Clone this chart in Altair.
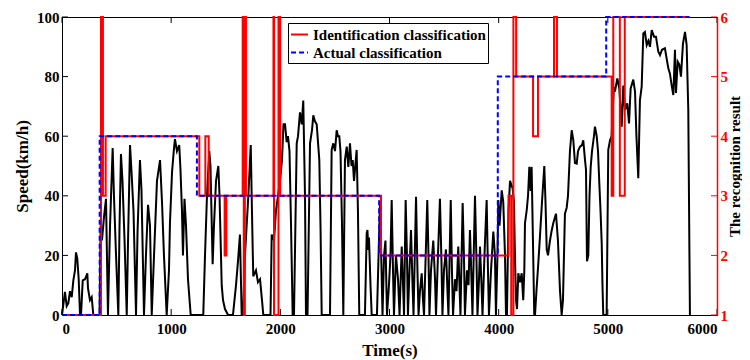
import altair as alt
import pandas as pd

FONT = "Liberation Serif"

# ---------------- speed trace (time in s, speed in km/h) ----------------
t_a = [0, 27, 43, 58, 73, 89, 104, 119, 128, 140, 153, 165, 174, 190, 211, 232, 238, 256, 272, 287, 344]
v_a = [0, 7.8, 3, 4, 8, 6, 11.6, 15, 21, 19, 12, 0, 0, 11.6, 12, 14, 9, 5, 6, 0, 0]

t_b = [354, 366, 385, 403, 421, 440, 464, 476, 495, 516, 527, 540, 554, 573, 593, 605, 623, 637, 655, 678,
       692, 714, 728, 751, 769, 788, 806, 822, 843, 870, 898, 916, 934, 959, 980, 989, 1008, 1026, 1035, 1053,
       1074, 1085, 1099, 1108, 1122, 1136, 1154, 1179, 1294]
v_b = [30, 25, 33, 39, 0, 30, 56, 40, 20, 0, 30, 54, 45, 25, 0, 25, 57, 48, 35, 0,
       28, 52, 42, 0, 20, 37, 30, 0, 20, 45, 52, 38, 20, 0, 15, 31, 48, 56, 59, 55,
       57, 49, 35, 20, 39, 30, 12, 0, 0]

t_c = [1310, 1328, 1349, 1360, 1380, 1392, 1411, 1432, 1443, 1463, 1475, 1493, 1521, 1566, 1594, 1612, 1630,
       1646, 1658, 1676, 1707, 1729, 1740, 1752, 1777, 1795, 1814, 1832, 1844, 1910, 1921, 1942, 1960, 1979,
       1997, 2015, 2029, 2043, 2058, 2070, 2084, 2098, 2113, 2125, 2150, 2162, 2180, 2196, 2210, 2226, 2235,
       2249, 2272, 2290, 2302, 2317, 2333, 2357, 2368, 2379, 2455, 2470, 2485, 2501, 2516, 2528, 2540, 2551,
       2565, 2577, 2592, 2608, 2623, 2638, 2652, 2663, 2675, 2699, 2711, 2723, 2775, 2791, 2798, 2806, 2812,
       2826, 2837, 2876]
v_c = [20, 40, 55, 50, 17, 30, 45, 50, 40, 10, 5, 2, 0, 0, 10, 18, 27,
       0, 0, 20, 40, 57, 35, 13, 15, 11, 12, 5, 0, 0, 27, 25, 35, 40,
       45, 52, 64, 64, 58, 60, 55, 30, 0, 0, 57.6, 60, 68, 64, 72, 40, 0,
       0, 57.6, 62, 67, 65, 64, 52, 30, 0, 0, 55.4, 57.6, 55, 62, 60, 60, 55,
       30, 0, 52, 56.5, 49.7, 57.6, 50, 52, 45, 55.4, 35, 0, 0, 27.4, 28.5, 21.8, 26,
       10, 0, 0]

t_d = [2885, 2913, 2927, 2936, 2950, 2963, 2977, 2995, 3009, 3020, 3032, 3041, 3059, 3078, 3092, 3112, 3124,
       3133, 3148, 3160, 3169, 3183, 3197, 3211, 3220, 3243, 3256, 3266, 3279, 3295, 3307, 3316, 3346, 3357,
       3366, 3380, 3401, 3417, 3426, 3444, 3462, 3476, 3485, 3499, 3517, 3531, 3540, 3561, 3572, 3582, 3600,
       3614, 3630, 3641, 3650, 3670, 3682, 3691, 3710, 3724, 3737, 3751, 3760, 3783, 3797, 3806, 3820, 3829,
       3843, 3852, 3870, 3890, 3902, 3911, 3930, 3951, 3966, 3975, 3989, 3997, 4008]
v_d = [0, 38, 15, 0, 20, 25, 0, 10, 20, 38.6, 15, 0, 20, 12, 0, 23, 10,
       0, 38.6, 20, 0, 15, 28.5, 10, 0, 39.7, 15, 0, 8, 14, 5, 0, 38.6, 20,
       0, 15, 25, 12, 0, 20, 39, 18, 0, 15, 22, 8, 0, 38.6, 15, 0, 12,
       8, 23, 10, 0, 37.6, 20, 0, 15, 10, 28.5, 12, 0, 40, 18, 0, 12, 23,
       10, 0, 20, 38.6, 15, 0, 15, 28, 20, 0, 20, 38.6, 30]

t_e = [4028, 4042, 4058, 4067, 4076, 4090, 4104, 4128, 4140, 4149, 4159, 4168, 4180, 4195, 4211, 4225, 4235,
       4241, 4257, 4269, 4281, 4293, 4302, 4314, 4326, 4333, 4346, 4363, 4378, 4397, 4418, 4429, 4440, 4452,
       4470, 4484, 4500, 4525, 4543, 4562, 4577, 4589, 4607, 4623, 4635, 4653, 4669, 4684, 4699, 4715, 4727,
       4745, 4763, 4775, 4791, 4800, 4809, 4821, 4832, 4843, 4855, 4873, 4882, 4898, 4910, 4922, 4933, 4944,
       4951, 4958, 4989, 5004, 5020, 5035, 5047, 5056, 5065, 5087, 5105, 5127, 5142, 5157, 5178, 5194, 5209,
       5233, 5249, 5262, 5279, 5294, 5310, 5325, 5340, 5356, 5371, 5386, 5402, 5423, 5441, 5462, 5478, 5496,
       5523, 5539, 5554, 5569, 5585, 5600, 5615, 5624, 5640, 5655, 5670, 5688, 5707, 5722, 5737, 5752]
v_e = [41.8, 38, 20, 0, 0, 35, 45, 42.5, 38, 20, 5, 2, 14, 11, 14, 5, 15,
       30.8, 35.2, 40, 49.7, 41.6, 49.7, 25, 0, 0, 8, 17.3, 26.2, 38, 50, 38, 22, 20,
       25, 28, 30.8, 34, 25, 8, 0, 5, 34, 36, 40, 55, 62, 58.6, 51, 50.8, 55,
       56.5, 57, 58.6, 52, 48.7, 18, 20, 40, 49.7, 55, 60, 63.2, 60, 55, 44.2, 35, 24,
       10, 0, 0, 55.4, 58.6, 60, 70, 76.6, 75, 79.4, 76, 63.2, 77, 68.8, 71, 64.3, 76,
       79, 75, 60, 45.9, 72, 76.6, 94.5, 95, 90.6, 92, 90, 95.6, 93.4, 93.4, 88.4, 87.2, 89,
       89.5, 86, 82.8, 81, 77, 73.8, 89, 74.5, 85, 84, 80, 91, 95, 90.6, 68.8, 0]

# ---------------- classification step series ----------------
ident_t = [0, 357, 375, 400, 1258, 1313, 1344, 1490, 1505, 1655, 1665, 1675, 1685, 1937, 1942, 1983, 1998,
           2922, 4090, 4115, 4135, 4160, 4315, 4360, 4507, 4534, 5035, 5050, 5110, 5155, 5750]
ident_v = [1, 6, 3, 4, 3, 4, 3, 2, 3, 6, 1, 6, 3, 6, 1, 6, 3,
           2, 3, 1, 6, 5, 4, 5, 6, 5, 3, 6, 3, 6, 6]

actual_t = [0, 345, 1236, 2905, 3992, 4985, 5745]
actual_v = [1, 4, 3, 2, 5, 6, 6]

SERIES = ["Identification classification", "Actual classification"]

# ticks
x_ticks = [0, 1000, 2000, 3000, 4000, 5000, 6000]
speed_ticks = [0, 20, 40, 60, 80, 100]
class_ticks = [1, 2, 3, 4, 5, 6]

speed_df = pd.DataFrame({"t": t_a + t_b + t_c + t_d + t_e,
                         "speed": v_a + v_b + v_c + v_d + v_e})
cls_df = pd.concat([
    pd.DataFrame({"t": ident_t, "cls": ident_v, "series": SERIES[0]}),
    pd.DataFrame({"t": actual_t, "cls": actual_v, "series": SERIES[1]}),
], ignore_index=True)
xt_df = pd.DataFrame({"t": x_ticks})
st_df = pd.DataFrame({"speed": speed_ticks})
ct_df = pd.DataFrame({"cls": class_ticks})

W, H = 655, 298

x_scale = alt.Scale(domain=[0, 6000], nice=False, zero=False)
yl_scale = alt.Scale(domain=[0, 100], nice=False)
yr_scale = alt.Scale(domain=[1, 6], nice=False, zero=False)

x_axis = alt.Axis(values=x_ticks, format="d", title="Time(s)", grid=False, ticks=False,
                  labelFont=FONT, labelFontSize=15, labelFontWeight="bold", labelColor="black",
                  labelPadding=6, titleFont=FONT, titleFontSize=17, titleFontWeight="bold",
                  titleColor="black", titlePadding=6, domainColor="black", domainWidth=1)
yl_axis = alt.Axis(values=speed_ticks, format="d", title="Speed(km/h)", grid=False, ticks=False,
                   labelFont=FONT, labelFontSize=15, labelFontWeight="bold", labelColor="black",
                   labelPadding=3, titleFont=FONT, titleFontSize=17, titleFontWeight="bold",
                   titleColor="black", titlePadding=5, domainColor="black", domainWidth=1)
yr_axis = alt.Axis(values=class_ticks, format="d", title="The recognition result", orient="right",
                   grid=False, ticks=False, labelFont=FONT, labelFontSize=15, labelFontWeight="bold",
                   labelColor="#ff0000", labelPadding=3, titleFont=FONT, titleFontSize=15,
                   titleFontWeight="bold", titleColor="black", titlePadding=0,
                   titleAngle=270, titleBaseline="top",
                   domainColor="#ff0000", domainWidth=1.5, zindex=1)

X = alt.X("t:Q", scale=x_scale, axis=x_axis)

speed_line = alt.Chart(speed_df).mark_line(color="black", strokeWidth=2).encode(
    x=X, y=alt.Y("speed:Q", scale=yl_scale, axis=yl_axis))
tick_bottom = alt.Chart(xt_df).mark_rule(color="black", strokeWidth=1).encode(
    x=X, y=alt.value(H), y2=alt.value(H - 6))
tick_top = alt.Chart(xt_df).mark_rule(color="black", strokeWidth=1).encode(
    x=X, y=alt.value(0), y2=alt.value(6))
tick_left = alt.Chart(st_df).mark_rule(color="black", strokeWidth=1).encode(
    y=alt.Y("speed:Q", scale=yl_scale, axis=yl_axis), x=alt.value(0), x2=alt.value(6))
left = alt.layer(speed_line, tick_bottom, tick_top, tick_left)

legend = alt.Legend(orient="none", legendX=226, legendY=6, title=None, fillColor="white",
                    strokeColor="black", padding=2, labelFont=FONT, labelFontSize=15,
                    labelFontWeight="bold", labelColor="black", labelLimit=400, symbolType="stroke",
                    symbolSize=289, symbolStrokeWidth=2, labelOffset=4, rowPadding=0)
color = alt.Color("series:N", scale=alt.Scale(domain=SERIES, range=["#ff0000", "#0000ff"]),
                  legend=legend)
dash = alt.StrokeDash("series:N", scale=alt.Scale(domain=SERIES, range=[[1, 0], [5, 3]]),
                      legend=legend)
YR = alt.Y("cls:Q", scale=yr_scale, axis=yr_axis)

ident_line = alt.Chart(cls_df).transform_filter(alt.datum.series == SERIES[0]).mark_line(
    interpolate="step-after", strokeWidth=2).encode(x=X, y=YR, color=color, strokeDash=dash)
actual_line = alt.Chart(cls_df).transform_filter(alt.datum.series == SERIES[1]).mark_line(
    interpolate="step-after", strokeWidth=2).encode(x=X, y=YR, color=color, strokeDash=dash)
tick_right = alt.Chart(ct_df).mark_rule(color="#ff0000", strokeWidth=1).encode(
    y=YR, x=alt.value(W - 6), x2=alt.value(W))
right = alt.layer(ident_line, actual_line, tick_right)

chart = alt.layer(left, right).resolve_scale(y="independent").properties(
    width=W, height=H,
    autosize=alt.AutoSizeParams(type="none"),
    padding={"left": 54, "top": 9, "right": 25, "bottom": 45},
).configure_view(stroke="black", strokeWidth=1)

chart.save("out.html", embed_options={"renderer": "svg", "actions": False})
